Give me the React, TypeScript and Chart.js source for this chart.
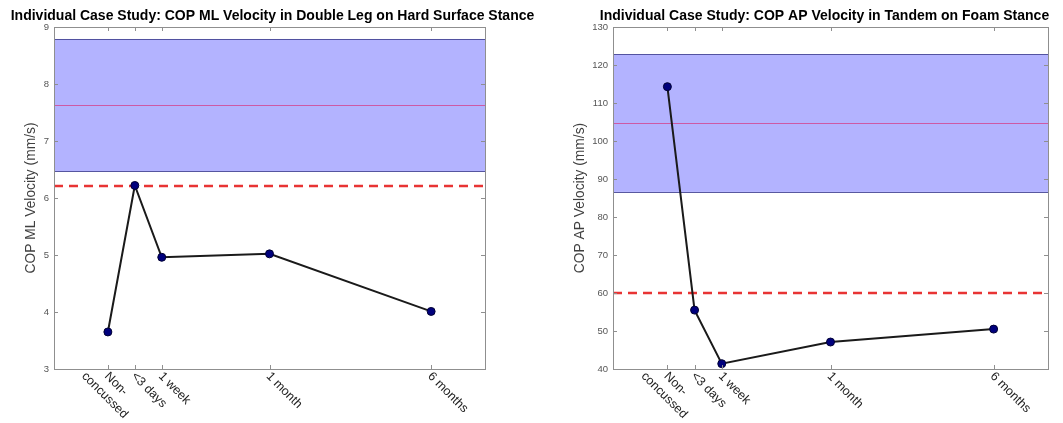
import React, { useEffect, useRef } from 'react';
import { Chart, registerables } from 'chart.js';

Chart.register(...registerables);

// ---- shared categories ----
const timeLabels: string[][] = [['Non-', 'concussed'], ['<3 days'], ['1 week'], ['1 month'], ['6 months']];
const timePositions = [0, 1, 2, 6, 12];
const xRange = [-2, 14];

// ---- left chart: COP ML velocity, double leg, hard surface ----
const mlTitle = 'Individual Case Study: COP ML Velocity in Double Leg on Hard Surface Stance';
const mlAxisTitle = 'COP ML Velocity (mm/s)';
const mlVelocity = [3.65, 6.22, 4.96, 5.02, 4.01];
const mlNormBand = [6.47, 8.79];
const mlNormMean = [7.64];
const mlCutoff = [6.21];
const mlYTicks = [3, 4, 5, 6, 7, 8, 9];

// ---- right chart: COP AP velocity, tandem, foam ----
const apTitle = 'Individual Case Study: COP AP Velocity in Tandem on Foam Stance';
const apAxisTitle = 'COP AP Velocity (mm/s)';
const apVelocity = [114.3, 55.5, 41.4, 47.1, 50.5];
const apNormBand = [86.6, 122.8];
const apNormMean = [104.7];
const apCutoff = [60];
const apYTicks = [40, 50, 60, 70, 80, 90, 100, 110, 120, 130];

const FONT = '"Liberation Sans", Arial, Helvetica, sans-serif';

type Cfg = {
  title: string;
  titleShift: number;
  axisTitle: string;
  axisTitleX: number;
  values: number[];
  band: number[];
  mean: number[];
  cutoff: number[];
  yTicks: number[];
  yAxisWidth: number;
  rightPad: number;
};

function makeDecor(cfg: Cfg) {
  return {
    id: 'decor',
    beforeDatasetsDraw(chart: any) {
      const { ctx, chartArea: a, scales } = chart;
      const y = scales.y;
      const w = a.right - a.left;
      ctx.save();
      const yTop = y.getPixelForValue(cfg.band[1]);
      const yBot = y.getPixelForValue(cfg.band[0]);
      ctx.fillStyle = 'rgb(179,179,255)';
      ctx.fillRect(a.left, yTop, w, yBot - yTop);
      ctx.strokeStyle = 'rgba(70,70,150,0.9)';
      ctx.lineWidth = 1;
      ctx.beginPath();
      ctx.moveTo(a.left, Math.round(yTop) + 0.5);
      ctx.lineTo(a.right, Math.round(yTop) + 0.5);
      ctx.moveTo(a.left, Math.round(yBot) + 0.5);
      ctx.lineTo(a.right, Math.round(yBot) + 0.5);
      ctx.stroke();
      // mean line
      const yM = y.getPixelForValue(cfg.mean[0]);
      ctx.strokeStyle = 'rgb(205,90,165)';
      ctx.beginPath();
      ctx.moveTo(a.left, Math.round(yM) + 0.5);
      ctx.lineTo(a.right, Math.round(yM) + 0.5);
      ctx.stroke();
      // cutoff dashed
      const yC = y.getPixelForValue(cfg.cutoff[0]);
      ctx.strokeStyle = 'rgb(232,52,52)';
      ctx.lineWidth = 2.5;
      ctx.setLineDash([9, 6]);
      ctx.beginPath();
      ctx.moveTo(a.left, yC);
      ctx.lineTo(a.right, yC);
      ctx.stroke();
      ctx.restore();
    },
    afterDraw(chart: any) {
      const { ctx, chartArea: a, scales } = chart;
      const x = scales.x;
      const y = scales.y;
      ctx.save();
      // box
      ctx.strokeStyle = '#8f8f8f';
      ctx.lineWidth = 1;
      ctx.strokeRect(Math.round(a.left) + 0.5, Math.round(a.top) + 0.5, Math.round(a.right - a.left), Math.round(a.bottom - a.top));
      // inner ticks
      ctx.beginPath();
      const tl = 4;
      timePositions.forEach((v) => {
        const px = Math.round(x.getPixelForValue(v)) + 0.5;
        ctx.moveTo(px, a.bottom);
        ctx.lineTo(px, a.bottom - tl);
        ctx.moveTo(px, a.top);
        ctx.lineTo(px, a.top + tl);
      });
      cfg.yTicks.forEach((v) => {
        const py = Math.round(y.getPixelForValue(v)) + 0.5;
        ctx.moveTo(a.left, py);
        ctx.lineTo(a.left + tl, py);
        ctx.moveTo(a.right, py);
        ctx.lineTo(a.right - tl, py);
      });
      ctx.stroke();

      // x labels rotated
      ctx.font = `12.5px ${FONT}`;
      ctx.fillStyle = '#222';
      ctx.textBaseline = 'top';
      ctx.textAlign = 'left';
      timeLabels.forEach((lines, i) => {
        const px = x.getPixelForValue(timePositions[i]);
        ctx.save();
        ctx.translate(px + 3, a.bottom + 1);
        ctx.rotate(Math.PI / 4);
        const w0 = ctx.measureText(lines[0]).width;
        lines.forEach((ln, j) => {
          const wl = ctx.measureText(ln).width;
          const u = j === 0 ? 0 : (w0 - wl) / 2;
          ctx.fillText(ln, u, j * 16);
        });
        ctx.restore();
      });

      // y axis title
      ctx.save();
      ctx.font = `13.8px ${FONT}`;
      ctx.fillStyle = '#404040';
      ctx.textAlign = 'center';
      ctx.textBaseline = 'middle';
      ctx.translate(cfg.axisTitleX, (a.top + a.bottom) / 2);
      ctx.rotate(-Math.PI / 2);
      ctx.fillText(cfg.axisTitle, 0, 0);
      ctx.restore();

      // chart title
      ctx.font = `bold 14px ${FONT}`;
      ctx.fillStyle = '#000';
      ctx.textAlign = 'center';
      ctx.textBaseline = 'middle';
      ctx.fillText(cfg.title, (a.left + a.right) / 2 + cfg.titleShift, 16);
      ctx.restore();
    },
  };
}

function buildConfig(cfg: Cfg): any {
  return {
    type: 'line',
    data: {
      datasets: [
        {
          data: cfg.values.map((v, i) => ({ x: timePositions[i], y: v })),
          borderColor: '#1a1a1a',
          borderWidth: 2,
          pointRadius: 4,
          pointBackgroundColor: '#00007d',
          pointBorderColor: '#000033',
          pointBorderWidth: 1,
          tension: 0,
          fill: false,
        },
      ],
    },
    options: {
      responsive: false,
      animation: false,
      events: [],
      layout: { padding: { top: 27, right: cfg.rightPad, left: 0, bottom: 0 } },
      plugins: { legend: { display: false }, title: { display: false }, tooltip: { enabled: false } },
      scales: {
        x: {
          type: 'linear',
          min: xRange[0],
          max: xRange[1],
          grid: { display: false, drawTicks: false },
          border: { display: false },
          ticks: { display: false },
          afterBuildTicks: (s: any) => {
            s.ticks = timePositions.map((v) => ({ value: v }));
          },
          afterFit: (s: any) => {
            s.height = 54;
          },
        },
        y: {
          type: 'linear',
          min: cfg.yTicks[0],
          max: cfg.yTicks[cfg.yTicks.length - 1],
          grid: { display: false, drawTicks: false },
          border: { display: false },
          ticks: { color: '#555', font: { size: 9.5, family: FONT }, padding: 5 },
          afterBuildTicks: (s: any) => {
            s.ticks = cfg.yTicks.map((v) => ({ value: v }));
          },
          afterFit: (s: any) => {
            s.width = cfg.yAxisWidth;
          },
        },
      },
    },
    plugins: [makeDecor(cfg)],
  };
}

function Panel({ cfg, left, width }: { cfg: Cfg; left: number; width: number }) {
  const ref = useRef<HTMLCanvasElement | null>(null);
  useEffect(() => {
    if (!ref.current) return;
    const chart = new Chart(ref.current, buildConfig(cfg));
    return () => chart.destroy();
  }, []);
  return (
    <canvas
      ref={ref}
      width={width}
      height={423}
      style={{ position: 'absolute', left, top: 0, width, height: 423 }}
    />
  );
}

const leftCfg: Cfg = {
  title: mlTitle,
  titleShift: 3,
  axisTitle: mlAxisTitle,
  axisTitleX: 31,
  values: mlVelocity,
  band: mlNormBand,
  mean: mlNormMean,
  cutoff: mlCutoff,
  yTicks: mlYTicks,
  yAxisWidth: 54,
  rightPad: 75,
};

const rightCfg: Cfg = {
  title: apTitle,
  titleShift: -6,
  axisTitle: apAxisTitle,
  axisTitleX: 20,
  values: apVelocity,
  band: apNormBand,
  mean: apNormMean,
  cutoff: apCutoff,
  yTicks: apYTicks,
  yAxisWidth: 53,
  rightPad: 15,
};

export default function App() {
  return (
    <div style={{ position: 'absolute', left: 0, top: 0, width: 1063, height: 423, background: '#fff', overflow: 'hidden' }}>
      <Panel cfg={leftCfg} left={0} width={560} />
      <Panel cfg={rightCfg} left={560} width={503} />
    </div>
  );
}
